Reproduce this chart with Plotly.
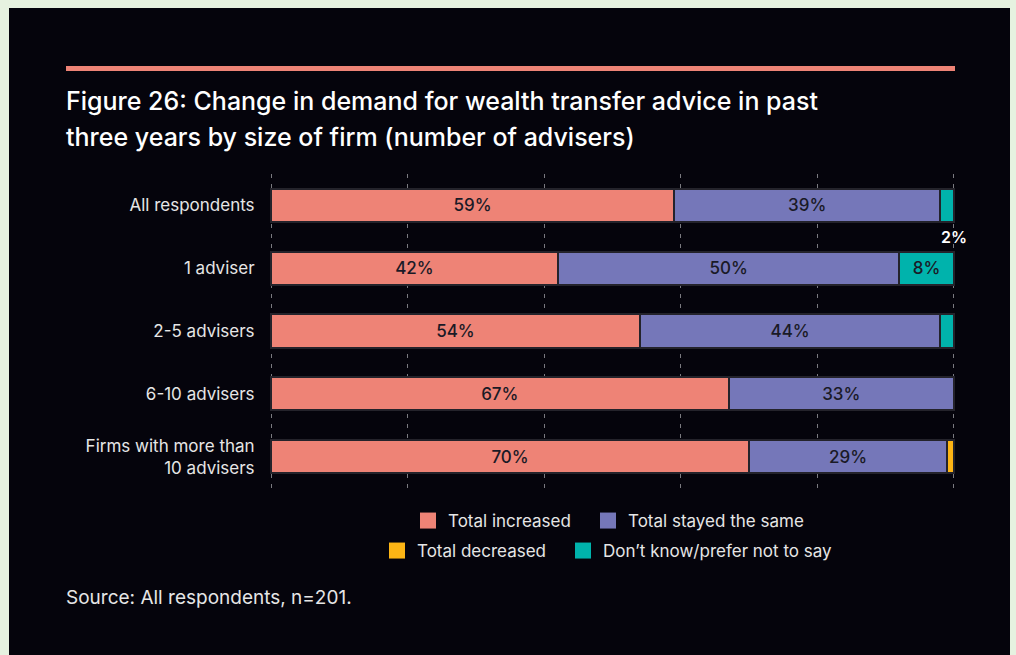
import plotly.graph_objects as go

# Survey results: share of firms by change in demand for wealth transfer advice
categories = ["All respondents", "1 adviser", "2-5 advisers", "6-10 advisers",
              "Firms with more than<br>10 advisers"]
increased = [59, 42, 54, 67, 70]
stayed_same = [39, 50, 44, 33, 29]
decreased = [0, 0, 0, 0, 1]
dont_know = [2, 8, 2, 0, 0]

series_names = ["Total increased", "Total stayed the same",
                "Total decreased", "Don\u2019t know/prefer not to say"]
colors = ["#EE8376", "#7577B9", "#FDB515", "#00B3AC"]

W, H = 1016, 655
FONT = "Inter"
BG = "#05040C"
LABEL_DARK = "#1A1A26"


def px_x(v):
    return v / W


def px_y(v):
    return 1 - v / H


def fmt(vals, show):
    return [f"{v}%" if s else "" for v, s in zip(vals, show)]


fig = go.Figure()

bar_series = [
    (increased, fmt(increased, [True] * 5)),
    (stayed_same, fmt(stayed_same, [True] * 5)),
    (decreased, fmt(decreased, [False] * 5)),
    (dont_know, fmt(dont_know, [False, True, False, False, False])),
]

for (vals, labels), name, col in zip(bar_series, series_names, colors):
    fig.add_trace(go.Bar(
        y=categories, x=vals, orientation="h", name=name,
        marker=dict(color=col, line=dict(color="#24232B", width=2)),
        text=labels, textposition="inside", insidetextanchor="middle",
        textfont=dict(family=FONT, size=17, color=LABEL_DARK, weight=500),
        showlegend=False, hoverinfo="skip",
    ))

# One legend per entry so the two rows can be placed independently
legend_ids = ["legend", "legend2", "legend3", "legend4"]
legend_pos = [(408, 521), (588, 521), (377, 551), (563, 551)]

for name, col, lid in zip(series_names, colors, legend_ids):
    fig.add_trace(go.Scatter(
        x=[None], y=[None], mode="markers", name=name,
        marker=dict(symbol="square", size=16, color=col),
        legend=lid,
    ))

legend_common = dict(orientation="h", xanchor="left", yanchor="middle",
                     bgcolor="rgba(0,0,0,0)",
                     font=dict(family=FONT, size=17, color="#E6E6E6"),
                     itemclick=False)
legends = {lid: dict(legend_common, x=px_x(px), y=px_y(py))
           for lid, (px, py) in zip(legend_ids, legend_pos)}

X0, X1 = -0.15, 100.15
fig.update_layout(
    width=W, height=H,
    margin=dict(l=0, r=0, t=0, b=0),
    paper_bgcolor="#E6F2E0",
    plot_bgcolor=BG,
    barmode="stack",
    bargap=0.47,
    uniformtext=dict(minsize=17, mode="show"),
    font=dict(family=FONT, color="#E6E6E6"),
    xaxis=dict(domain=[px_x(270), px_x(955)], range=[X0, X1],
               showticklabels=False, showgrid=True, gridcolor="#7A7A80",
               griddash="4px,6px", gridwidth=1, zeroline=False,
               tickvals=[0, 20, 40, 60, 80, 100], fixedrange=True),
    yaxis=dict(domain=[px_y(488), px_y(174)], autorange="reversed",
               showgrid=False, zeroline=False,
               tickfont=dict(family=FONT, size=17, color="#E6E6E6"),
               ticks="outside", ticklen=11, tickcolor="rgba(0,0,0,0)"),
    shapes=[
        dict(type="rect", xref="paper", yref="paper", layer="below",
             x0=px_x(9), x1=px_x(1010), y0=0, y1=px_y(8),
             fillcolor=BG, line=dict(width=0)),
        dict(type="rect", xref="paper", yref="paper",
             x0=px_x(66), x1=px_x(955), y0=px_y(71), y1=px_y(66),
             fillcolor="#EE8376", line=dict(width=0)),
    ],
    annotations=[
        dict(text="Figure 26: Change in demand for wealth transfer advice in past",
             xref="paper", yref="paper", x=px_x(64), y=px_y(101),
             xanchor="left", yanchor="middle", showarrow=False,
             font=dict(family=FONT, size=25, color="#FFFFFF", weight=500)),
        dict(text="three years by size of firm (number of advisers)",
             xref="paper", yref="paper", x=px_x(64), y=px_y(137),
             xanchor="left", yanchor="middle", showarrow=False,
             font=dict(family=FONT, size=25, color="#FFFFFF", weight=500)),
        dict(text="Source: All respondents, n=201.",
             xref="paper", yref="paper", x=px_x(64), y=px_y(597),
             xanchor="left", yanchor="middle", showarrow=False,
             font=dict(family=FONT, size=19, color="#E6E6E6")),
        dict(text=f"{dont_know[0]}%", xref="x", yref="paper",
             x=100, y=px_y(237), xanchor="center", yanchor="middle",
             showarrow=False,
             font=dict(family=FONT, size=16, color="#FFFFFF", weight=600)),
    ],
    **legends,
)

fig.write_html("out.html")
